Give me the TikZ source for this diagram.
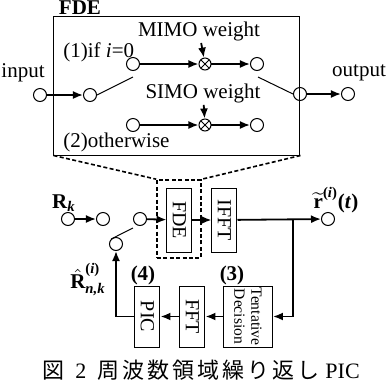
\documentclass[tikz,border=0pt]{standalone}
\usepackage{amsmath}
\usepackage{fontspec}
\setmainfont{Liberation Serif}
\newfontfamily\cjk[LetterSpace=14]{Noto Sans CJK JP}
\usetikzlibrary{arrows.meta}

\begin{document}
\begin{tikzpicture}[x=0.5pt, y=-0.5pt, font=\fontsize{10.5}{12}\selectfont,
    >={Latex[length=5pt,width=4pt]},
    port/.style={circle, draw, line width=0.5pt, minimum size=6.5pt, inner sep=0pt},
    mult/.style={circle, draw, line width=0.5pt, minimum size=6pt, inner sep=0pt,
      path picture={\draw[line width=0.5pt] (path picture bounding box.north west) -- (path picture bounding box.south east)
        (path picture bounding box.north east) -- (path picture bounding box.south west);}},
    blk/.style={draw, line width=0.5pt, rotate=-90, minimum width=32pt, minimum height=12.5pt, inner sep=0pt,
      font=\fontsize{10}{11}\selectfont},
    flow/.style={->, line width=0.9pt},
    blade/.style={line width=0.5pt},
    zoomline/.style={line width=0.8pt, dash pattern=on 2pt off 1.2pt}]
  \useasboundingbox (0,0) rectangle (386,387);

  % FDE in detail
  \node[draw, line width=0.5pt, minimum width=123pt, minimum height=69.5pt] (fdebox) at (177,85.5) {};
  \node[font=\fontsize{10.5}{12}\selectfont\bfseries] (fdetitle) at (80,8) {FDE};

  \node[port] (in) at (40,95) {};
  \node[port] (sw1) at (90,95) {};
  \node[port] (a1) at (133,64) {};
  \node[port] (b1) at (133,125) {};
  \node[mult] (ma) at (205,64) {};
  \node[mult] (mb) at (205,125) {};
  \node[port] (a2) at (257,64) {};
  \node[port] (b2) at (257,125) {};
  \node[port] (sw2) at (300,94) {};
  \node[port] (out) at (348,94) {};
  \coordinate (t1) at (133,77);
  \coordinate (t2) at (258,77);

  \node (inlbl) at (23,73) {input};
  \node (outlbl) at (359,73) {output};
  \node[inner sep=1pt] (mimo) at (199,31) {MIMO weight};
  \node[inner sep=1pt] (simo) at (203,93) {SIMO weight};
  \node[anchor=west, inner sep=1pt] (c1) at (61,52) {(1)if \textit{i}=0};
  \node[anchor=west, inner sep=1pt] (c2) at (61,142) {(2)otherwise};

  \draw[flow] (in) -- (sw1);
  \draw[flow] (a1) -- (ma);
  \draw[flow] (ma) -- (a2);
  \draw[flow] (b1) -- (mb);
  \draw[flow] (mb) -- (b2);
  \draw[flow] (sw2) -- (out);
  \draw[flow] (mimo) -- (ma);
  \draw[flow] (simo) -- (mb);
  \draw[blade] (sw1.east) -- (t1);
  \draw[blade] (t2) -- (sw2.west);

  % Main loop
  \node[port] (rk) at (68,219) {};
  \node[port] (p2) at (103,219) {};
  \node[port] (p3) at (140,219) {};
  \node[port] (pf) at (116,244) {};
  \node[port] (rt) at (328,219) {};
  \coordinate (t3) at (133,228);
  \coordinate (br) at (293,219);

  \node[blk] (fde) at (179.5,220) {FDE};
  \node[blk] (ifft) at (224.5,220) {IFFT};
  \node[draw, zoomline, minimum width=22pt, minimum height=39pt] (dbox) at (179,219) {};
  \draw[zoomline] (fdebox.south west) -- (dbox.north west);
  \draw[zoomline] (fdebox.south east) -- (dbox.north east);

  \node[blk, minimum width=30.5pt, minimum height=24.5pt, align=center,
    font=\fontsize{7.8}{8.5}\selectfont] (td) at (248,316.5) {Tentative\\Decision};
  \node[blk, minimum width=30.5pt] (fft) at (192.5,316.5) {FFT};
  \node[blk, minimum width=30.5pt] (pic) at (147.5,316.5) {PIC};

  \draw[flow] (rk) -- (p2);
  \draw[flow] (p3) -- (fde);
  \draw[flow] (fde) -- (ifft);
  \draw[flow] (ifft) -- (rt);
  \draw[flow] (br) |- (td);
  \draw[flow] (td) -- (fft);
  \draw[flow] (fft) -- (pic);
  \draw[flow] (pic) -| (pf);
  \draw[blade] (pf.north west) -- (t3);

  % Labels
  \node[inner sep=1pt] (rklbl) at (64,203) {$\textbf{R}_{\textbf{\textit{k}}}$};
  \node[inner sep=1pt] (rtlbl) at (336,200) {$\widetilde{\textbf{r}}^{\textbf{(\textit{i})}}\textbf{(\textit{t})}$};
  \node[inner sep=1pt] (rhlbl) at (88,280) {$\hat{\textbf{R}}^{\textbf{(\textit{i})}}_{\textbf{\textit{n,k}}}$};
  \node[font=\fontsize{10.5}{12}\selectfont\bfseries, inner sep=1pt] (n4) at (143,275) {(4)};
  \node[font=\fontsize{10.5}{12}\selectfont\bfseries, inner sep=1pt] (n3) at (232,275) {(3)};

  \node (cap) at (201,370) {\fontsize{11}{13}\selectfont{\cjk 図}~~2~~{\cjk 周波数領域繰り返し}~PIC};
\end{tikzpicture}
\end{document}
